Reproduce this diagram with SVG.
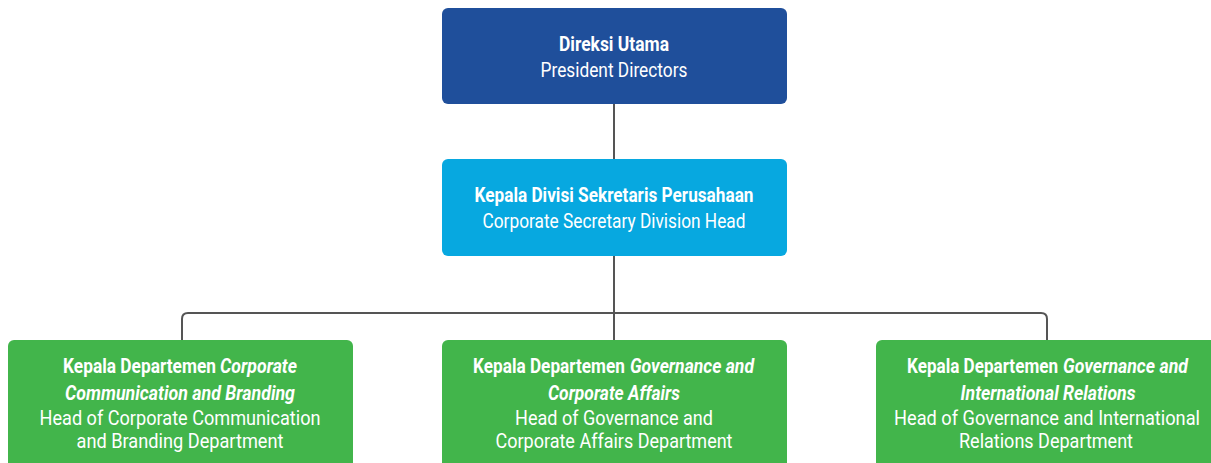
<svg xmlns="http://www.w3.org/2000/svg" width="1211" height="463" viewBox="0 0 1211 463">
<style>
text{font-family:Roboto,"Liberation Sans",sans-serif;font-size:20px;fill:#fff;text-anchor:middle}
.b{font-weight:bold}
.i{font-style:italic}
.s{text-anchor:start}
.conn{fill:none;stroke:#555;stroke-width:2}
</style>
<rect width="1211" height="463" fill="#fff"/>
<g id="connectors">
<path class="conn" d="M614 104V159"/>
<path class="conn" d="M614 256V340"/>
<path class="conn" d="M182 340V319Q182 313 188 313H1041Q1047 313 1047 319V340"/>
</g>
<g id="president">
<rect x="442" y="8" width="345" height="96" rx="6" fill="#1F4F9B"/>
<text class="b" transform="translate(614 51) scale(0.86 1)" textLength="127.9" lengthAdjust="spacingAndGlyphs">Direksi Utama</text>
<text transform="translate(614 77) scale(0.86 1)" textLength="170.9" lengthAdjust="spacingAndGlyphs">President Directors</text>
</g>
<g id="corpsec">
<rect x="442" y="159" width="345" height="97" rx="6" fill="#07A8E0"/>
<text class="b" transform="translate(614 202) scale(0.86 1)" textLength="324.4" lengthAdjust="spacingAndGlyphs">Kepala Divisi Sekretaris Perusahaan</text>
<text transform="translate(614 228) scale(0.86 1)" textLength="305.8" lengthAdjust="spacingAndGlyphs">Corporate Secretary Division Head</text>
</g>
<g id="ccb">
<rect x="8" y="340" width="345" height="135" rx="6" fill="#42B54B"/>
<text class="b s" transform="translate(63 373) scale(0.86 1)" textLength="177.9" lengthAdjust="spacingAndGlyphs">Kepala Departemen</text>
<text class="b i s" transform="translate(220 373) scale(0.86 1)" textLength="89.5" lengthAdjust="spacingAndGlyphs">Corporate</text>
<text class="b i" transform="translate(180 400) scale(0.86 1)" textLength="267.4" lengthAdjust="spacingAndGlyphs">Communication and Branding</text>
<text transform="translate(180 425) scale(0.86 1)" textLength="326.7" lengthAdjust="spacingAndGlyphs">Head of Corporate Communication</text>
<text transform="translate(180 448) scale(0.86 1)" textLength="240.7" lengthAdjust="spacingAndGlyphs">and Branding Department</text>
</g>
<g id="gca">
<rect x="442" y="340" width="345" height="135" rx="6" fill="#42B54B"/>
<text class="b s" transform="translate(473 373) scale(0.86 1)" textLength="176.7" lengthAdjust="spacingAndGlyphs">Kepala Departemen</text>
<text class="b i s" transform="translate(630 373) scale(0.86 1)" textLength="144.2" lengthAdjust="spacingAndGlyphs">Governance and</text>
<text class="b i" transform="translate(614 400) scale(0.86 1)" textLength="153.5" lengthAdjust="spacingAndGlyphs">Corporate Affairs</text>
<text transform="translate(614 425) scale(0.86 1)" textLength="230.2" lengthAdjust="spacingAndGlyphs">Head of Governance and</text>
<text transform="translate(614 448) scale(0.86 1)" textLength="275.6" lengthAdjust="spacingAndGlyphs">Corporate Affairs Department</text>
</g>
<g id="gir">
<rect x="876" y="340" width="345" height="135" rx="6" fill="#42B54B"/>
<text class="b s" transform="translate(907 373) scale(0.86 1)" textLength="175.6" lengthAdjust="spacingAndGlyphs">Kepala Departemen</text>
<text class="b i s" transform="translate(1063 373) scale(0.86 1)" textLength="145.3" lengthAdjust="spacingAndGlyphs">Governance and</text>
<text class="b i" transform="translate(1048 400) scale(0.86 1)" textLength="203.5" lengthAdjust="spacingAndGlyphs">International Relations</text>
<text transform="translate(1047 425) scale(0.86 1)" textLength="355.8" lengthAdjust="spacingAndGlyphs">Head of Governance and International</text>
<text transform="translate(1046 448) scale(0.86 1)" textLength="202.3" lengthAdjust="spacingAndGlyphs">Relations Department</text>
</g>
</svg>
